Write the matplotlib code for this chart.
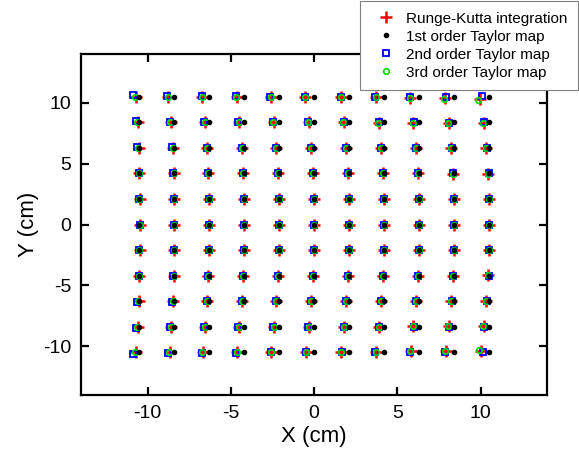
import matplotlib
matplotlib.use('Agg')
import matplotlib.pyplot as plt
import numpy as np

plt.rcParams['font.family'] = ['Liberation Sans', 'DejaVu Sans']
plt.rcParams['axes.unicode_minus'] = False

# nominal launch grid (cm), rows from bottom to top
x_grid = [-10.5, -8.4, -6.3, -4.2, -2.1, 0.0, 2.1, 4.2, 6.3, 8.4, 10.5]
y_grid = [-10.5, -8.4, -6.3, -4.2, -2.1, 0.0, 2.1, 4.2, 6.3, 8.4, 10.5]

# displacement from the grid, rows bottom -> top
rk_dx = [
    [-0.18, -0.26, -0.40, -0.44, -0.50, -0.51, -0.49, -0.49, -0.50, -0.50, -0.50],
    [-0.10, -0.20, -0.25, -0.30, -0.32, -0.33, -0.33, -0.33, -0.33, -0.32, -0.32],
    [-0.03, -0.08, -0.14, -0.16, -0.18, -0.18, -0.18, -0.18, -0.17, -0.16, -0.15],
    [0.00, -0.03, -0.05, -0.06, -0.07, -0.07, -0.07, -0.07, -0.06, -0.05, -0.05],
    [0.02, 0.00, -0.01, -0.01, -0.02, -0.02, -0.02, -0.01, -0.01, 0.00, 0.00],
    [0.03, 0.01, 0.00, 0.00, 0.00, 0.00, 0.00, 0.00, 0.00, 0.01, 0.02],
    [0.02, 0.00, -0.01, -0.01, -0.02, -0.02, -0.02, -0.01, -0.01, 0.00, 0.00],
    [0.00, -0.03, -0.05, -0.06, -0.07, -0.07, -0.07, -0.07, -0.06, -0.05, -0.05],
    [-0.03, -0.08, -0.14, -0.16, -0.18, -0.18, -0.18, -0.18, -0.17, -0.16, -0.15],
    [-0.10, -0.22, -0.25, -0.30, -0.33, -0.33, -0.33, -0.33, -0.33, -0.32, -0.32],
    [-0.22, -0.38, -0.43, -0.46, -0.51, -0.52, -0.50, -0.50, -0.52, -0.52, -0.52],
]
rk_dy = [
    [0.03, 0.02, 0.00, 0.00, 0.00, 0.02, 0.04, 0.06, 0.08, 0.12, 0.16],
    [0.02, 0.01, 0.00, 0.00, 0.00, 0.01, 0.02, 0.03, 0.04, 0.06, 0.08],
    [0.00, 0.00, 0.00, 0.00, 0.00, 0.00, 0.00, 0.01, 0.02, 0.03, 0.04],
    [0.00, 0.00, 0.00, 0.00, 0.00, 0.00, 0.00, 0.00, 0.00, 0.01, 0.02],
    [0.00, 0.00, 0.00, 0.00, 0.00, 0.00, 0.00, 0.00, 0.00, 0.00, 0.00],
    [0.00, 0.00, 0.00, 0.00, 0.00, 0.00, 0.00, 0.00, 0.00, 0.00, 0.00],
    [0.00, 0.00, 0.00, 0.00, 0.00, 0.00, 0.00, 0.00, 0.00, 0.00, 0.00],
    [0.00, 0.00, 0.00, 0.00, 0.00, 0.00, 0.00, 0.00, 0.00, -0.01, -0.02],
    [0.00, 0.00, 0.00, 0.00, 0.00, 0.00, 0.00, -0.01, -0.02, -0.03, -0.04],
    [-0.02, -0.01, 0.00, 0.00, 0.00, -0.01, -0.02, -0.03, -0.04, -0.06, -0.08],
    [-0.03, -0.02, 0.00, 0.00, 0.00, -0.02, -0.04, -0.06, -0.08, -0.12, -0.18],
]
t2_dx = [
    [-0.40, -0.39, -0.45, -0.48, -0.50, -0.48, -0.44, -0.52, -0.55, -0.55, -0.37],
    [-0.22, -0.27, -0.33, -0.36, -0.35, -0.34, -0.33, -0.33, -0.32, -0.30, -0.28],
    [-0.12, -0.13, -0.15, -0.16, -0.17, -0.17, -0.17, -0.16, -0.15, -0.13, -0.10],
    [-0.04, -0.05, -0.06, -0.06, -0.06, -0.06, -0.06, -0.06, -0.05, -0.04, -0.02],
    [0.00, -0.01, -0.01, -0.01, -0.01, -0.01, -0.01, -0.01, 0.00, 0.00, 0.02],
    [0.02, 0.00, 0.00, 0.00, 0.00, 0.00, 0.00, 0.00, 0.00, 0.01, 0.03],
    [0.00, -0.01, -0.01, -0.01, -0.01, -0.01, -0.01, -0.01, 0.00, 0.00, 0.02],
    [-0.04, -0.05, -0.06, -0.06, -0.06, -0.06, -0.06, -0.06, -0.05, -0.04, -0.02],
    [-0.12, -0.13, -0.15, -0.16, -0.17, -0.17, -0.17, -0.16, -0.15, -0.13, -0.10],
    [-0.22, -0.27, -0.33, -0.36, -0.35, -0.34, -0.33, -0.33, -0.32, -0.30, -0.28],
    [-0.37, -0.44, -0.45, -0.48, -0.52, -0.52, -0.50, -0.52, -0.55, -0.50, -0.44],
]
t2_dy = [
    [-0.12, -0.08, -0.05, -0.03, 0.00, 0.00, 0.00, 0.02, 0.04, 0.05, 0.00],
    [-0.10, -0.05, -0.02, 0.00, 0.00, 0.00, 0.00, 0.01, 0.02, 0.03, 0.00],
    [-0.06, -0.03, -0.01, 0.00, 0.00, 0.00, 0.00, 0.00, 0.01, 0.01, 0.00],
    [-0.03, -0.01, 0.00, 0.00, 0.00, 0.00, 0.00, 0.00, 0.00, 0.00, 0.00],
    [-0.01, 0.00, 0.00, 0.00, 0.00, 0.00, 0.00, 0.00, 0.00, 0.00, 0.00],
    [0.00, 0.00, 0.00, 0.00, 0.00, 0.00, 0.00, 0.00, 0.00, 0.00, 0.00],
    [0.01, 0.00, 0.00, 0.00, 0.00, 0.00, 0.00, 0.00, 0.00, 0.00, 0.00],
    [0.03, 0.01, 0.00, 0.00, 0.00, 0.00, 0.00, 0.00, 0.00, 0.00, 0.00],
    [0.08, 0.03, 0.01, 0.00, 0.00, 0.00, 0.00, 0.00, -0.01, -0.01, 0.00],
    [0.10, 0.05, 0.02, 0.00, 0.00, 0.00, 0.00, -0.01, -0.02, -0.03, 0.00],
    [0.12, 0.08, 0.05, 0.03, 0.00, 0.00, 0.00, -0.02, -0.04, 0.00, 0.05],
]
t3_dx = [
    [-0.26, -0.30, -0.42, -0.45, -0.50, -0.51, -0.49, -0.50, -0.52, -0.55, -0.58],
    [-0.14, -0.22, -0.27, -0.31, -0.33, -0.33, -0.33, -0.33, -0.34, -0.35, -0.36],
    [-0.05, -0.09, -0.14, -0.16, -0.18, -0.18, -0.18, -0.18, -0.17, -0.17, -0.17],
    [-0.01, -0.03, -0.05, -0.06, -0.07, -0.07, -0.07, -0.07, -0.06, -0.05, -0.05],
    [0.01, 0.00, -0.01, -0.01, -0.02, -0.02, -0.02, -0.01, -0.01, 0.00, 0.00],
    [0.02, 0.01, 0.00, 0.00, 0.00, 0.00, 0.00, 0.00, 0.00, 0.01, 0.02],
    [0.01, 0.00, -0.01, -0.01, -0.02, -0.02, -0.02, -0.01, -0.01, 0.00, 0.00],
    [-0.01, -0.03, -0.05, -0.06, -0.07, -0.07, -0.07, -0.07, -0.06, -0.05, -0.05],
    [-0.05, -0.09, -0.14, -0.16, -0.18, -0.18, -0.18, -0.18, -0.17, -0.17, -0.17],
    [-0.14, -0.24, -0.27, -0.31, -0.34, -0.34, -0.34, -0.34, -0.34, -0.35, -0.36],
    [-0.28, -0.40, -0.44, -0.47, -0.51, -0.52, -0.50, -0.51, -0.54, -0.58, -0.66],
]
t3_dy = [
    [0.03, 0.02, 0.00, 0.00, 0.00, 0.02, 0.04, 0.07, 0.10, 0.14, 0.20],
    [0.02, 0.01, 0.00, 0.00, 0.00, 0.01, 0.02, 0.03, 0.05, 0.07, 0.10],
    [0.00, 0.00, 0.00, 0.00, 0.00, 0.00, 0.00, 0.01, 0.02, 0.03, 0.05],
    [0.00, 0.00, 0.00, 0.00, 0.00, 0.00, 0.00, 0.00, 0.00, 0.01, 0.02],
    [0.00, 0.00, 0.00, 0.00, 0.00, 0.00, 0.00, 0.00, 0.00, 0.00, 0.00],
    [0.00, 0.00, 0.00, 0.00, 0.00, 0.00, 0.00, 0.00, 0.00, 0.00, 0.00],
    [0.00, 0.00, 0.00, 0.00, 0.00, 0.00, 0.00, 0.00, 0.00, 0.00, 0.00],
    [0.00, 0.00, 0.00, 0.00, 0.00, 0.00, 0.00, 0.00, 0.00, -0.01, -0.02],
    [0.00, 0.00, 0.00, 0.00, 0.00, 0.00, 0.00, -0.01, -0.02, -0.03, -0.05],
    [-0.02, -0.01, 0.00, 0.00, 0.00, -0.01, -0.02, -0.03, -0.05, -0.07, -0.10],
    [-0.04, -0.02, 0.00, 0.00, 0.00, -0.02, -0.04, -0.07, -0.10, -0.16, -0.25],
]

labels = ['Runge-Kutta integration', '1st order Taylor map',
          '2nd order Taylor map', '3rd order Taylor map']

gx, gy = np.meshgrid(x_grid, y_grid)

fig = plt.figure(figsize=(5.79, 4.5), dpi=100)
ax = fig.add_axes([0.140, 0.122, 0.805, 0.758])

h_rk, = ax.plot((gx + np.array(rk_dx)).ravel(), (gy + np.array(rk_dy)).ravel(), '+',
                color='#ff0000', ms=8.5, mew=1.8, linestyle='none')
h_t2, = ax.plot((gx + np.array(t2_dx)).ravel(), (gy + np.array(t2_dy)).ravel(), 's',
                mfc='none', mec='#0000ff', ms=5, mew=1.3, linestyle='none')
h_t3, = ax.plot((gx + np.array(t3_dx)).ravel(), (gy + np.array(t3_dy)).ravel(), 'o',
                mfc='none', mec='#00dd00', ms=4, mew=1.2, linestyle='none')
h_t1, = ax.plot(gx.ravel(), gy.ravel(), 'o', color='black', ms=3, linestyle='none')

ax.set_xlim(-14, 14)
ax.set_ylim(-14, 14)
ax.set_xticks([-10, -5, 0, 5, 10])
ax.set_yticks([-10, -5, 0, 5, 10])
ax.tick_params(direction='in', length=6, width=1.6, labelsize=14, pad=7,
               top=True, right=True)
for s in ax.spines.values():
    s.set_linewidth(1.6)
ax.set_xlabel('X (cm)', fontsize=16, labelpad=3)
ax.set_ylabel('Y (cm)', fontsize=16, labelpad=3)

leg = fig.legend([h_rk, h_t1, h_t2, h_t3], labels, loc='upper left',
                 bbox_to_anchor=(360 / 579, 1 - 1 / 450), borderaxespad=0,
                 fontsize=11, frameon=True, fancybox=False, framealpha=1,
                 edgecolor='#808080', handlelength=2.0, handletextpad=0.3,
                 labelspacing=0.26, borderpad=0.7, numpoints=1)
leg.get_frame().set_linewidth(0.8)

fig.savefig('out.png', dpi=100)
